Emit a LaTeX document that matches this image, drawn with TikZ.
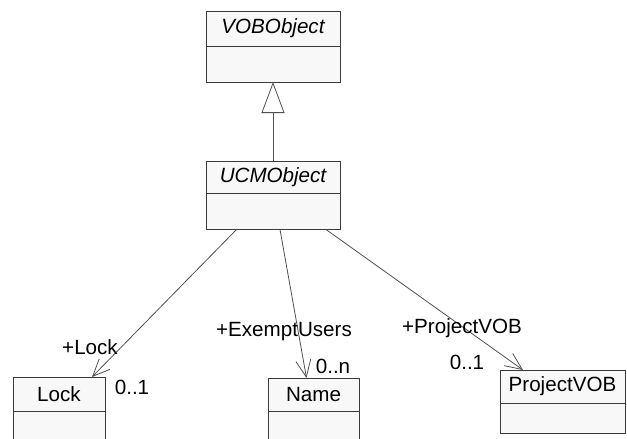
\documentclass[tikz,border=0pt]{standalone}
\usepackage{fontspec}
\setmainfont{Liberation Sans}
\usetikzlibrary{arrows.meta,calc}
\definecolor{boxfill}{HTML}{F8F8F8}
\definecolor{boxline}{HTML}{3A3A3A}
\definecolor{wire}{HTML}{505050}
\begin{document}
\begin{tikzpicture}[x=1pt,y=-1pt,
  compartment/.style={draw=boxline,fill=boxfill,line width=1pt,anchor=north west,
    inner sep=0pt,outer sep=0pt,font=\fontsize{20.6}{24}\selectfont},
  classname/.style={compartment,font=\fontsize{20.6}{24}\selectfont\itshape},
  assoc/.style={draw=wire,line width=0.8pt,-{Straight Barb[length=17pt,width=15pt,line width=0.8pt]}},
  inherit/.style={draw=wire,line width=0.8pt,-{Triangle[open,length=31pt,width=23pt,fill=white,line width=0.8pt]}},
  role/.style={font=\fontsize{20.6}{24}\selectfont,inner sep=0pt}]
\useasboundingbox (0,0) rectangle (627,439);
\clip (0,0) rectangle (627,439);

% VOBObject
\node[classname,minimum width=134pt,minimum height=35pt] (vobname) at (206,11) {VOBObject};
\node[compartment,minimum width=134pt,minimum height=36pt] (vobattr) at (vobname.south west) {};

% UCMObject
\node[classname,minimum width=134pt,minimum height=32pt] (ucmname) at (206,161) {UCMObject};
\node[compartment,minimum width=134pt,minimum height=36.5pt] (ucmattr) at (ucmname.south west) {};

% Lock
\node[compartment,minimum width=92pt,minimum height=34pt] (lockname) at (13,377) {Lock};
\node[compartment,minimum width=92pt,minimum height=34pt] (lockattr) at (lockname.south west) {};

% Name
\node[compartment,minimum width=91pt,minimum height=33pt] (namename) at (268,378) {Name};
\node[compartment,minimum width=91pt,minimum height=34pt] (nameattr) at (namename.south west) {};

% ProjectVOB
\node[compartment,minimum width=125pt,minimum height=33pt] (pvobname) at (500,370) {ProjectVOB};
\node[compartment,minimum width=125pt,minimum height=30pt] (pvobattr) at (pvobname.south west) {};

% generalisation
\draw[inherit] (ucmname.north) -- (vobattr.south);

% associations
\coordinate (srcLock) at ($(ucmattr.south west)+(30.5,0)$);
\coordinate (srcName) at ($(ucmattr.south west)+(74,0)$);
\coordinate (srcPvob) at ($(ucmattr.south west)+(120,0)$);
\coordinate (dstLock) at ($(lockname.north west)+(79,0)$);
\coordinate (dstName) at ($(namename.north west)+(38.5,0)$);
\coordinate (dstPvob) at ($(pvobname.north west)+(23,0)$);
\draw[assoc] (srcLock) -- (dstLock);
\draw[assoc] (srcName) -- (dstName);
\draw[assoc] (srcPvob) -- (dstPvob);

% role names and multiplicities
\node[role] (lockrole) at (90,347) {+Lock};
\node[role] (lockmult) at (132,387) {0..1};
\node[role] (namerole) at (284,332) {+ExemptUsers};
\node[role] (namemult) at (333,366) {0..n};
\node[role] (pvobrole) at (462,328) {+ProjectVOB};
\node[role] (pvobmult) at (467,362) {0..1};
\end{tikzpicture}
\end{document}
